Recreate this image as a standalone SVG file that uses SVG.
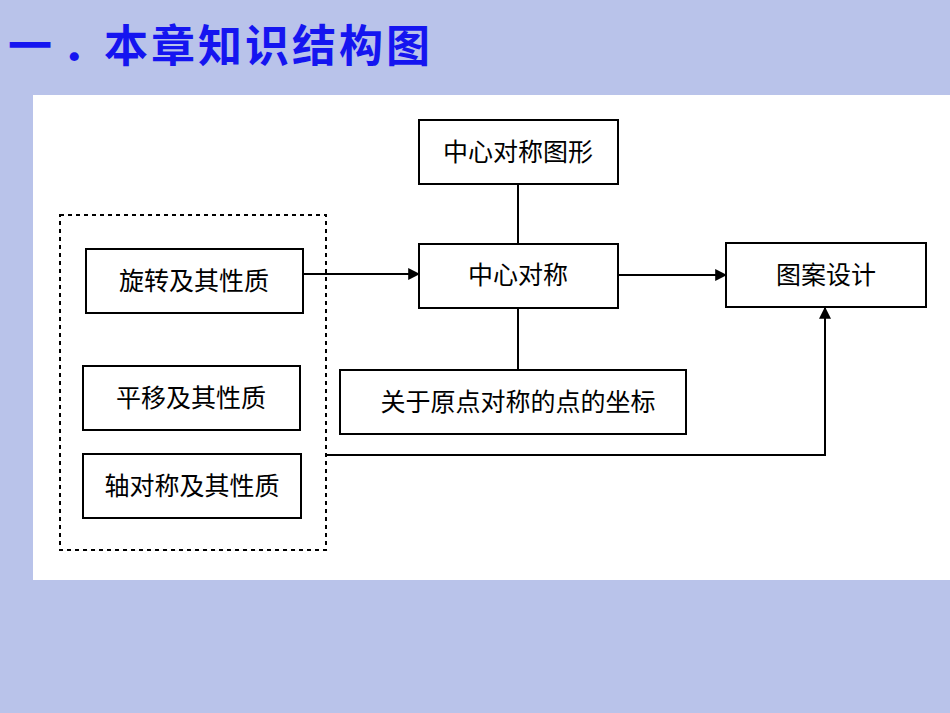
<svg xmlns="http://www.w3.org/2000/svg" width="950" height="713" viewBox="0 0 950 713">
<style>
.b{fill:#fff;stroke:#000;stroke-width:2}
.t{font-family:"Liberation Serif","Noto Sans CJK SC",serif;font-size:25px;fill:#000;text-anchor:middle}
.c{stroke:#000;stroke-width:2;fill:none}
</style>
<defs><marker id="a" viewBox="0 0 10 10" refX="9" refY="5" markerWidth="6" markerHeight="6" orient="auto"><path d="M0,0L10,5L0,10z" fill="#000"/></marker></defs>
<rect width="950" height="713" fill="#b9c3ea"/>
<g font-family="'Liberation Sans','Noto Sans CJK SC',sans-serif" font-weight="bold" font-size="44" fill="#1515f0">
<text x="8" y="62">一</text><text x="62" y="62">．</text>
<text x="104" y="62" letter-spacing="3">本章知识结构图</text>
</g>
<rect x="33" y="95" width="917" height="485" fill="#fff"/>
<g id="connectors">
<path class="c" d="M518,184V244M518,308V370"/>
<path class="c" d="M303,274H419" marker-end="url(#a)"/>
<path class="c" d="M618,275H726" marker-end="url(#a)"/>
<path class="c" d="M326,455H825V308" marker-end="url(#a)"/>
</g>
<g id="group"><rect x="60" y="215" width="266" height="335" fill="none" stroke="#000" stroke-width="2" stroke-dasharray="4,4"/></g>
<g id="n1"><rect class="b" x="419" y="120" width="199" height="64"/><text class="t" x="518" y="161">中心对称图形</text></g>
<g id="n2"><rect class="b" x="419" y="244" width="199" height="64"/><text class="t" x="518" y="284">中心对称</text></g>
<g id="n3"><rect class="b" x="726" y="243" width="200" height="64"/><text class="t" x="826" y="284">图案设计</text></g>
<g id="n4"><rect class="b" x="340" y="370" width="346" height="64"/><text class="t" x="518" y="411">关于原点对称的点的坐标</text></g>
<g id="n5"><rect class="b" x="86" y="249" width="217" height="64"/><text class="t" x="194" y="290">旋转及其性质</text></g>
<g id="n6"><rect class="b" x="83" y="366" width="217" height="64"/><text class="t" x="191" y="407">平移及其性质</text></g>
<g id="n7"><rect class="b" x="83" y="454" width="218" height="64"/><text class="t" x="192" y="495">轴对称及其性质</text></g>
</svg>
